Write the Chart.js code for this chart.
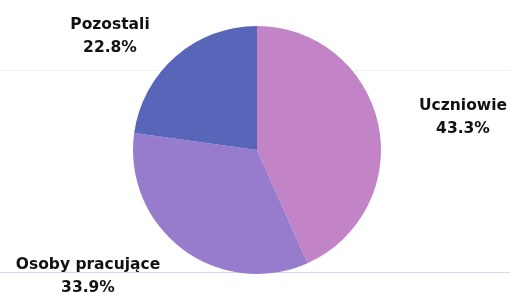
<!DOCTYPE html>
<html>
<head>
<meta charset="utf-8">
<script src="https://cdn.jsdelivr.net/npm/chart.js@4"></script>
<style>
  body { margin: 0; background: #fff; }
  #wrap { width: 510px; height: 292px; position: relative; }
</style>
</head>
<body>
<div id="wrap"><canvas id="pie_chart"></canvas></div>
<script>
// data
const labels = ["Uczniowie", "Osoby pracujące", "Pozostali"]
const shares = [43.3, 33.9, 22.8]
const colors = ["#c283c7", "#977ccd", "#5865b9"]

// where each label sits (canvas px, centre of the two lines)
const label_pos = [[463, 117], [88, 276], [110, 36]]

// faint scan lines behind the pie
const scanLines = {
  id: 'scanLines',
  beforeDraw(chart) {
    const ctx = chart.ctx
    ctx.save()
    ctx.lineWidth = 1
    ctx.strokeStyle = 'rgba(200,220,235,0.9)'
    ctx.beginPath(); ctx.moveTo(0, 272.5); ctx.lineTo(510, 272.5); ctx.stroke()
    ctx.strokeStyle = 'rgba(225,225,225,0.5)'
    ctx.beginPath(); ctx.moveTo(0, 70.5); ctx.lineTo(510, 70.5); ctx.stroke()
    ctx.restore()
  }
}

// labels drawn outside the slices
const outsideLabels = {
  id: 'outsideLabels',
  afterDraw(chart) {
    const ctx = chart.ctx
    ctx.save()
    ctx.fillStyle = '#111'
    ctx.font = 'bold 15.5px "DejaVu Sans"'
    ctx.textAlign = 'center'
    ctx.textBaseline = 'middle'
    chart.data.labels.forEach((lab, i) => {
      const [x, y] = label_pos[i]
      ctx.fillText(lab, x, y - 11)
      ctx.fillText(chart.data.datasets[0].data[i].toFixed(1) + '%', x, y + 12)
    })
    ctx.restore()
  }
}

const pie_config = {
  type: 'pie',
  data: {
    labels: labels,
    datasets: [{
      data: shares,
      backgroundColor: colors,
      borderWidth: 0
    }]
  },
  options: {
    responsive: true,
    maintainAspectRatio: false,
    animation: false,
    layout: { padding: { top: 26, bottom: 18, left: 4, right: 0 } },
    plugins: {
      legend: { display: false },
      tooltip: { enabled: false }
    }
  },
  plugins: [scanLines, outsideLabels]
}

const myPieChart = new Chart(document.getElementById('pie_chart'), pie_config)
</script>
</body>
</html>
